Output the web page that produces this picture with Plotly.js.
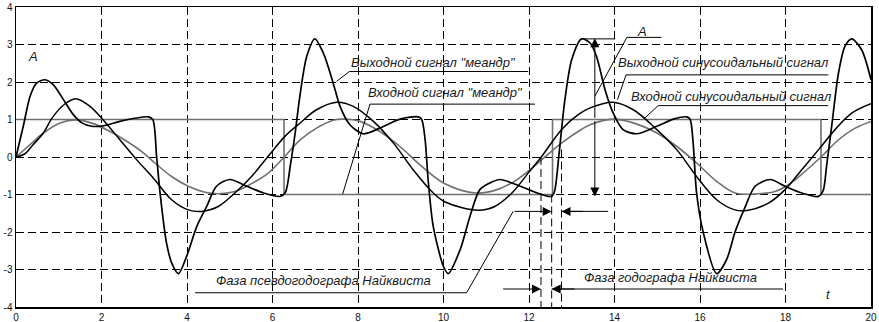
<!DOCTYPE html>
<html>
<head>
<meta charset="utf-8">
<script src="https://cdn.plot.ly/plotly-3.0.1.min.js"></script>
<style>html,body{margin:0;padding:0;background:#fff;}#chart{width:879px;height:322px;}</style>
</head>
<body>
<div id="chart"></div>
<script>
// ---- data ----
var inMeanderT = [0, 6.27, 6.27, 12.55, 12.55, 18.83, 18.83, 20];
var inMeanderY = [1, 1, -1, -1, 1, 1, -1, -1];

var inSineT = [0, 0.33, 0.64, 1.03, 1.42, 1.81, 2.2, 2.59, 2.98, 3.25, 3.64, 4.03, 4.42, 4.73, 5.12, 5.51, 5.9, 6.29, 6.64, 7.03, 7.42, 7.66, 8.05, 8.51, 8.98, 9.45, 10.01, 10.74, 11.2, 11.6, 11.98, 12.3, 12.76, 13.15, 13.43, 13.97, 14.44, 14.99, 15.46, 15.92, 16.39, 16.82, 17.36, 17.75, 18.07, 18.46, 18.85, 19.24, 19.63, 20];
var inSineY = [0, 0.33, 0.64, 0.91, 0.99, 0.89, 0.68, 0.42, 0.11, -0.16, -0.52, -0.78, -0.94, -0.98, -0.92, -0.71, -0.43, 0.02, 0.45, 0.77, 0.98, 1.01, 0.95, 0.68, 0.28, -0.21, -0.7, -0.96, -0.89, -0.69, -0.38, -0.07, 0.37, 0.68, 0.86, 1.01, 0.91, 0.64, 0.28, -0.16, -0.65, -0.96, -0.98, -0.92, -0.74, -0.38, 0.02, 0.46, 0.77, 0.95];

var outSineT = [0, 0.2, 0.4, 0.64, 0.85, 1.15, 1.42, 1.73, 2.04, 2.43, 2.82, 3.21, 3.64, 4.03, 4.34, 4.73, 5.12, 5.51, 5.9, 6.29, 6.64, 7.03, 7.5, 7.89, 8.36, 8.83, 9.29, 9.76, 10.04, 10.81, 11.2, 11.6, 11.98, 12.3, 12.76, 13.15, 13.43, 13.97, 14.44, 14.99, 15.46, 15.92, 16.39, 16.82, 17.13, 17.6, 17.99, 18.38, 18.77, 19.16, 19.55, 20];
var outSineY = [0, 0.08, 0.33, 0.64, 1.05, 1.42, 1.55, 1.35, 0.99, 0.46, -0.07, -0.56, -1.14, -1.41, -1.45, -1.32, -0.96, -0.52, 0.02, 0.55, 0.9, 1.26, 1.46, 1.35, 0.95, 0.37, -0.34, -0.96, -1.2, -1.42, -1.32, -0.96, -0.43, 0.02, 0.73, 1.13, 1.31, 1.46, 1.26, 0.73, 0.19, -0.52, -1.14, -1.41, -1.42, -1.23, -0.87, -0.34, 0.19, 0.73, 1.17, 1.42];

var outMeanderT = [0, 0.17, 0.33, 0.48, 0.68, 0.87, 1.11, 1.34, 1.54, 1.77, 2.04, 2.43, 2.82, 3.1, 3.2, 3.29, 3.37, 3.52, 3.65, 3.8, 3.99, 4.23, 4.46, 4.69, 5.0, 5.4, 5.79, 6.18, 6.3, 6.42, 6.53, 6.64, 6.8, 6.99, 7.19, 7.42, 7.58, 7.81, 8.12, 8.51, 8.98, 9.41, 9.49, 9.57, 9.64, 9.76, 10.0, 10.11, 10.39, 10.62, 10.85, 11.09, 11.32, 11.71, 12.1, 12.53, 12.6, 12.7, 12.84, 13.0, 13.23, 13.43, 13.58, 13.78, 13.97, 14.2, 14.52, 14.99, 15.38, 15.69, 15.77, 15.84, 15.92, 16.08, 16.39, 16.62, 16.82, 17.05, 17.29, 17.64, 17.99, 18.38, 18.77, 18.88, 18.96, 19.08, 19.24, 19.39, 19.55, 19.78, 20];
var outMeanderY = [0, 0.82, 1.62, 1.97, 2.06, 1.93, 1.53, 1.13, 0.91, 0.82, 0.83, 0.95, 1.04, 1.07, 1.0, 0, -0.96, -2.29, -2.85, -3.11, -2.65, -1.85, -1.32, -0.78, -0.6, -0.78, -0.96, -1.05, -0.95, -0.2, 0.64, 1.62, 2.68, 3.15, 2.77, 1.97, 1.35, 0.86, 0.62, 0.77, 1.01, 1.07, 1.0, 0.46, -0.6, -1.85, -2.92, -3.11, -2.47, -1.58, -0.87, -0.69, -0.6, -0.74, -0.92, -1.05, -0.9, 0.05, 1.53, 2.6, 3.15, 3.04, 2.68, 1.79, 1.17, 0.73, 0.62, 0.82, 1.01, 1.07, 1.0, 0.37, -0.96, -2.03, -3.11, -2.74, -2.0, -1.35, -0.78, -0.6, -0.78, -0.96, -1.05, -0.9, -0.25, 0.82, 2.24, 2.95, 3.15, 2.86, 2.06];

var xTicks = [0, 2, 4, 6, 8, 10, 12, 14, 16, 18, 20];
var yTicks = [-4, -3, -2, -1, 0, 1, 2, 3, 4];

var GRAY = '#707070', BLACK = '#000000';
var FONT = 'Liberation Sans, Arial, Helvetica, sans-serif';

var traces = [
  {x: inMeanderT, y: inMeanderY, mode: 'lines', line: {color: GRAY, width: 1.6, shape: 'linear'}, hoverinfo: 'skip'},
  {x: inSineT, y: inSineY, mode: 'lines', line: {color: GRAY, width: 1.6, shape: 'spline', smoothing: 1}, hoverinfo: 'skip'},
  {x: outSineT, y: outSineY, mode: 'lines', line: {color: BLACK, width: 1.5, shape: 'spline', smoothing: 1}, hoverinfo: 'skip'},
  {x: outMeanderT, y: outMeanderY, mode: 'lines', line: {color: BLACK, width: 1.7, shape: 'spline', smoothing: 0.8}, hoverinfo: 'skip'}
];

function seg(x0, y0, x1, y1, dash) {
  return {type: 'line', xref: 'x', yref: 'y', x0: x0, y0: y0, x1: x1, y1: y1,
          line: {color: BLACK, width: 1, dash: dash || 'solid'}, layer: 'above'};
}
var shapes = [
  // extra dashed phase marks
  seg(12.28, 0, 12.28, -4, '8px,4px'),
  seg(12.53, -1, 12.53, -4, '8px,4px'),
  seg(12.76, 0.2, 12.76, -4, '8px,4px'),
  // leaders
  seg(7.5, 2.02, 7.8, 2.28), seg(7.8, 2.28, 11.98, 2.28),
  seg(7.64, -0.99, 8.28, 1.41), seg(8.28, 1.41, 12.14, 1.41),
  seg(13.54, 1.62, 14.29, 3.19), seg(14.29, 3.19, 15.1, 3.19),
  seg(13.22, 3.15, 14.01, 3.15),
  seg(14.07, 1.53, 14.27, 2.19), seg(14.27, 2.19, 19.0, 2.19),
  seg(14.71, 1.04, 15.02, 1.37), seg(15.02, 1.37, 19.0, 1.37),
  seg(4.19, -3.62, 10.54, -3.62), seg(10.54, -3.62, 11.63, -1.45),
  seg(12.76, -1.45, 13.85, -1.45),
  seg(12.53, -3.52, 17.94, -3.52)
];

function arrow(x, y, ax, ay) {
  return {x: x, y: y, ax: ax, ay: ay, xref: 'x', yref: 'y', axref: 'x', ayref: 'y', text: '',
          showarrow: true, arrowhead: 2, arrowsize: 1.8, arrowwidth: 1, arrowcolor: BLACK, standoff: 0, startstandoff: 0};
}
function label(x, y, txt, xanchor) {
  return {x: x, y: y, xref: 'x', yref: 'y', text: '<i>' + txt + '</i>', showarrow: false,
          xanchor: xanchor || 'left', yanchor: 'middle', font: {family: FONT, size: 13, color: '#1a1a1a'}};
}
var annotations = [
  arrow(12.53, -1.45, 11.63, -1.45),
  arrow(12.76, -1.45, 13.3, -1.45),
  arrow(12.28, -3.52, 11.36, -3.52),
  arrow(12.53, -3.52, 13.1, -3.52),
  arrow(13.54, 3.17, 13.54, 1.0),
  arrow(13.54, -1.05, 13.54, 1.0),
  label(0.4, 2.67, 'A', 'center'),
  label(14.64, 3.35, 'A', 'center'),
  label(7.8, 2.51, 'Выходной сигнал "меандр"'),
  label(8.18, 1.71, 'Входной сигнал "меандр"'),
  label(14.03, 2.51, 'Выходной синусоидальный сигнал'),
  label(14.35, 1.62, 'Входной синусоидальный сигнал'),
  label(4.62, -3.29, 'Фаза псевдогодографа Найквиста'),
  label(13.24, -3.22, 'Фаза годографа Найквиста'),
  label(19.0, -3.67, 't', 'center')
];

var axisCommon = {
  showgrid: true, gridcolor: BLACK, gridwidth: 1, griddash: '8px,4px',
  showline: true, linecolor: BLACK, linewidth: 1.5, mirror: true,
  zeroline: false, ticks: '', tickfont: {family: FONT, size: 10, color: '#111'}, fixedrange: true
};
var layout = {
  width: 879, height: 322,
  margin: {l: 16, r: 8, t: 7, b: 15, pad: 0},
  paper_bgcolor: '#ffffff', plot_bgcolor: '#ffffff',
  showlegend: false,
  xaxis: Object.assign({}, axisCommon, {range: [0, 20], tickmode: 'array', tickvals: xTicks, ticktext: xTicks.map(String)}),
  yaxis: Object.assign({}, axisCommon, {range: [-4, 4], tickmode: 'array', tickvals: yTicks, ticktext: yTicks.map(String)}),
  shapes: shapes,
  annotations: annotations
};
Plotly.newPlot('chart', traces, layout, {staticPlot: true, displayModeBar: false});
</script>
</body>
</html>
